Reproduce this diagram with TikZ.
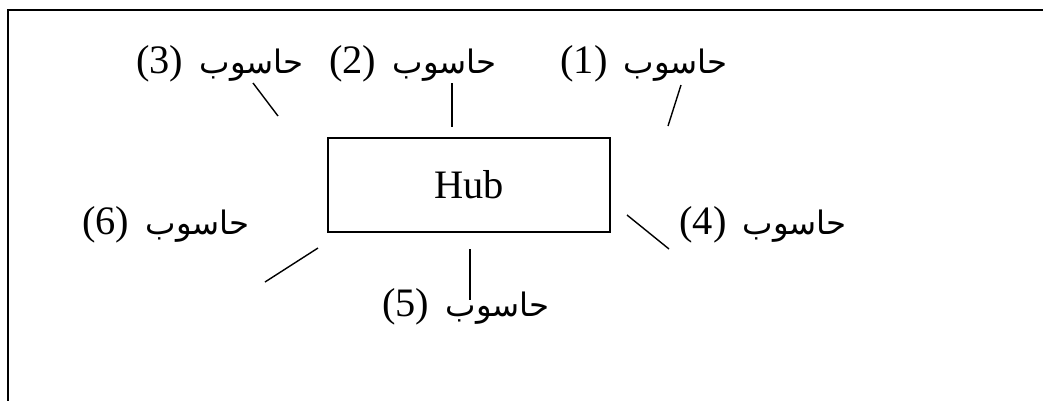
\documentclass[tikz,border=0pt]{standalone}
\usepackage{fontspec}
\setmainfont{Liberation Serif}
\newfontfamily\arabicfont[Script=Arabic,Scale=0.8]{DejaVu Sans}
\TeXXeTstate=1
\newcommand{\pcname}[1]{(#1)\hspace{0.4em}{\arabicfont\beginR حاسوب\endR}}
\begin{document}
\begin{tikzpicture}[x=0.02cm, y=-0.02cm,
		pclabel/.style={font=\fontsize{23}{27}\selectfont, inner sep=0pt},
		link/.style={line width=0.8pt}]
		\useasboundingbox (0, 0) rectangle (1043, 400);
		\clip (0, 0) rectangle (1043, 400);
		\draw[line width=1.2pt] (8, 10) rectangle (1080, 440);	% outer frame, runs off the page
		
		\node[draw, line width=0.9pt, minimum width=5.64cm, minimum height=1.88cm,
			font=\fontsize{23}{27}\selectfont] (hub) at (469, 185) {Hub};
		
		\node[pclabel] (pc1) at (644, 64) {\pcname{1}};
		\node[pclabel] (pc2) at (413, 64) {\pcname{2}};
		\node[pclabel] (pc3) at (220, 64) {\pcname{3}};
		\node[pclabel] (pc4) at (763, 225) {\pcname{4}};
		\node[pclabel] (pc5) at (466, 307) {\pcname{5}};
		\node[pclabel] (pc6) at (166, 225) {\pcname{6}};
		
		\coordinate (A1) at (681, 85);
		\coordinate (B1) at (668, 126);
		\coordinate (A2) at (452, 83);
		\coordinate (B2) at (452, 127);
		\coordinate (A3) at (253, 83);
		\coordinate (B3) at (278, 116);
		\coordinate (A4) at (627, 215);
		\coordinate (B4) at (669, 249);
		\coordinate (A5) at (470, 249);
		\coordinate (B5) at (470, 300);
		\coordinate (A6) at (318, 248);
		\coordinate (B6) at (265, 282);
		
		\draw[link] (A1) -- (B1);
		\draw[link] (A2) -- (B2);
		\draw[link] (A3) -- (B3);
		\draw[link] (A4) -- (B4);
		\draw[link] (A5) -- (B5);
		\draw[link] (A6) -- (B6);
	\end{tikzpicture}
\end{document}
